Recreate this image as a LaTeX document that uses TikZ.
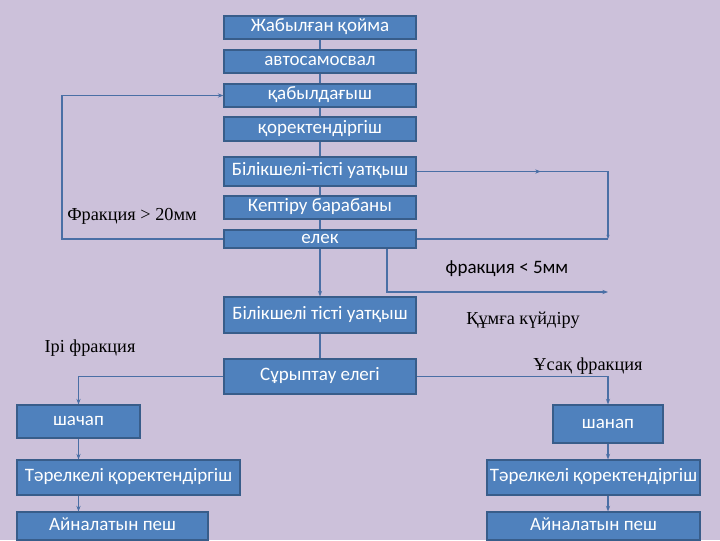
\documentclass[tikz,border=0pt]{standalone}
\usepackage{fontspec}
\usepackage{tikz}
\usetikzlibrary{arrows.meta}
\usetikzlibrary{decorations.markings}
\newfontfamily\boxfont{Carlito}
\newfontfamily\lblfont{Liberation Serif}
\definecolor{bgcol}{HTML}{CCC1DA}
\definecolor{boxfill}{HTML}{4F81BD}
\definecolor{boxline}{HTML}{385D8A}
\definecolor{linkcol}{HTML}{4A6FA5}
\begin{document}
\begin{tikzpicture}[x=0.025cm, y=-0.025cm,
    box/.style={draw=boxline, line width=0.8pt, fill=boxfill, text=white,
      font={\boxfont\fontsize{13.5}{15}\selectfont}, inner sep=0pt,
      text height=9pt, text depth=3pt},
    lbl/.style={font={\lblfont\fontsize{13}{15}\selectfont}},
    link/.style={draw=linkcol, line width=0.9pt},
    midarrow/.style={decoration={
        markings,
        mark=at position #1 with {\arrow{Stealth[length=4pt]}}},
      postaction={decorate}}
  ]
    \fill[bgcol] (0, 0) rectangle (720, 540);
    \useasboundingbox (0, 0) rectangle (720, 540);
    % main column
    \node[box, minimum width=4.8cm, minimum height=0.575cm] (qoima) at (320, 27.5) {Жабылған қойма};
    \node[box, minimum width=4.8cm, minimum height=0.575cm] (avto) at (320, 61.5) {автосамосвал};
    \node[box, minimum width=4.8cm, minimum height=0.575cm] (qabyl) at (320, 95.5) {қабылдағыш};
    \node[box, minimum width=4.8cm, minimum height=0.6cm] (qorek) at (320, 129) {қоректендіргіш};
    \node[box, minimum width=4.8cm, minimum height=0.725cm] (uatq1) at (320, 171.5) {Білікшелі-тісті уатқыш};
    \node[box, minimum width=4.8cm, minimum height=0.575cm] (baraban) at (320, 207.5) {Кептіру барабаны};
    \node[box, minimum width=4.8cm, minimum height=0.45cm] (elek) at (320, 239) {елек};
    \node[box, minimum width=4.8cm, minimum height=0.9cm] (uatq2) at (320, 315) {Білікшелі тісті уатқыш};
    \node[box, minimum width=4.8cm, minimum height=0.875cm] (sort) at (320, 376.5) {Сұрыптау елегі};
    % left branch
    \node[box, minimum width=3.075cm, minimum height=0.825cm] (shachap) at (78.5, 421.5) {шачап};
    \node[box, minimum width=5.575cm, minimum height=0.875cm] (tarelL) at (128.5, 477.5) {Тәрелкелі қоректендіргіш};
    \node[box, minimum width=4.775cm, minimum height=0.7cm] (peshL) at (112.5, 526) {Айналатын пеш};
    % right branch
    \node[box, minimum width=2.75cm, minimum height=0.95cm] (shanap) at (608, 424) {шанап};
    \node[box, minimum width=5.325cm, minimum height=0.875cm] (tarelR) at (593.5, 477.5) {Тәрелкелі қоректендіргіш};
    \node[box, minimum width=5.325cm, minimum height=0.7cm] (peshR) at (593.5, 526) {Айналатын пеш};
    % labels
    \node[lbl] (big20) at (132, 216) {Фракция > 20мм};
    \node[font={\boxfont\fontsize{13.5}{15}\selectfont}] (small5) at (507, 269) {фракция < 5мм};
    \node[lbl] (qumga) at (523, 320) {Құмға күйдіру};
    \node[lbl] (iri) at (90, 348) {Ірі фракция};
    \node[lbl] (usaq) at (588, 366) {Ұсақ фракция};
    % turning points
    \coordinate (backL) at (62, 0);
    \coordinate (backR) at (608, 0);
    \coordinate (sieve) at (387, 292);
    \coordinate (sieveEnd) at (608, 292);
    % connectors
    \draw[link] (qoima) -- (avto);
    \draw[link] (avto) -- (qabyl);
    \draw[link] (qabyl) -- (qorek);
    \draw[link] (qorek) -- (uatq1);
    \draw[link] (uatq1) -- (baraban);
    \draw[link] (baraban) -- (elek);
    \draw[link, -{Stealth[length=4pt]}] (elek) -- (uatq2);
    \draw[link] (uatq2) -- (sort);
    \draw[link, -{Stealth[length=4pt]}] (elek.west) -- (elek.west -| backL) |- (qabyl.west);
    \draw[link, midarrow=0.48, -{Stealth[length=3pt]}] (uatq1.east) -- (uatq1.east -| backR) -- (elek.east -| backR);
    \draw[link] (elek.east -| backR) -- (elek.east);
    \draw[link, -{Stealth[length=4pt]}] (elek.south -| sieve) -- (sieve) -- (sieveEnd);
    \draw[link, -{Stealth[length=4pt]}] (sort.west) -| (shachap.north);
    \draw[link, -{Stealth[length=4pt]}] (sort.east) -| (shanap.north);
    \draw[link, -{Stealth[length=4pt]}] (shachap.south) -- (shachap.south |- tarelL.north);
    \draw[link, -{Stealth[length=4pt]}] (shachap.south |- tarelL.south) -- (shachap.south |- peshL.north);
    \draw[link, -{Stealth[length=4pt]}] (shanap.south) -- (shanap.south |- tarelR.north);
    \draw[link, -{Stealth[length=4pt]}] (shanap.south |- tarelR.south) -- (shanap.south |- peshR.north);
  \end{tikzpicture}
\end{document}
